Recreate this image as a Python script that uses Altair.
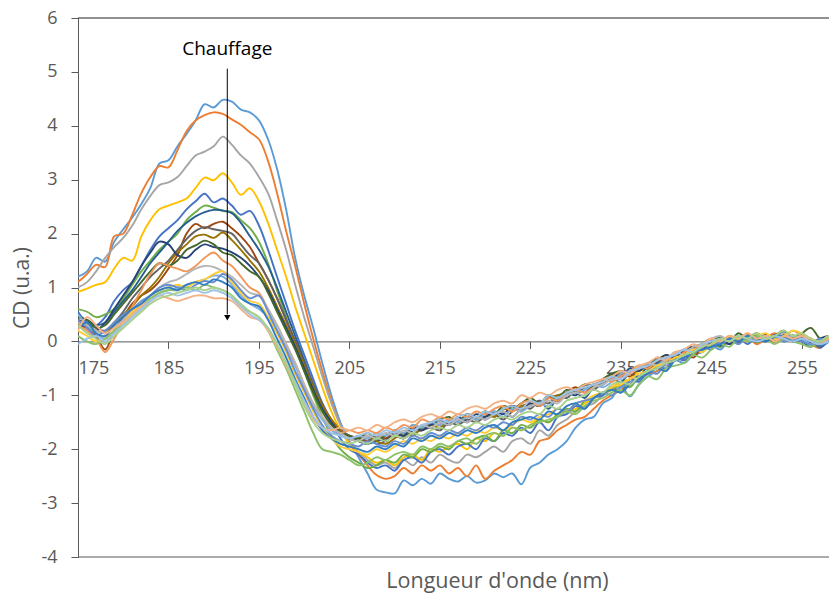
import altair as alt
import pandas as pd

wavelengths = list(range(175, 260))

series_names = [f"S{i:02d}" for i in range(1, 23)]
series_colors = ["#5B9BD5", "#ED7D31", "#A5A5A5", "#FFC000", "#4472C4", "#70AD47",
                 "#255E91", "#9E480E", "#636363", "#997300", "#264478", "#43682B",
                 "#7CAFDD", "#F1975A", "#B7B7B7", "#FFCD33", "#698ED0", "#8CC168",
                 "#327DC2", "#F4B183", "#9DC3E6", "#A9D18E"]

s01 = [1.20, 1.30, 1.55, 1.48, 1.85, 2.08, 2.30, 2.55, 2.85, 3.30,
       3.36, 3.62, 3.85, 4.10, 4.40, 4.34, 4.48, 4.45, 4.30, 4.25,
       4.10, 3.75, 3.20, 2.45, 1.55, 0.85, 0.25, -0.40, -1.00, -1.50,
       -1.85, -2.15, -2.45, -2.75, -2.80, -2.82, -2.58, -2.67, -2.55, -2.64,
       -2.45, -2.55, -2.60, -2.50, -2.62, -2.58, -2.45, -2.52, -2.45, -2.65,
       -2.34, -2.25, -2.10, -2.00, -1.85, -1.60, -1.45, -1.40, -1.15, -1.05,
       -0.82, -1.02, -0.80, -0.65, -0.55, -0.50, -0.35, -0.40, -0.25, -0.20,
       -0.08, -0.15, 0.02, -0.05, 0.10, 0.00, 0.06, 0.14, 0.00, 0.05,
       0.10, 0.02, -0.10, 0.00, 0.12]
s02 = [1.10, 1.25, 1.42, 1.38, 1.95, 2.00, 2.35, 2.75, 3.05, 3.25,
       3.23, 3.55, 3.90, 4.10, 4.20, 4.25, 4.22, 4.12, 4.02, 3.88,
       3.75, 3.35, 2.75, 2.05, 1.40, 0.70, 0.05, -0.55, -1.10, -1.55,
       -1.90, -2.10, -2.30, -2.48, -2.55, -2.50, -2.35, -2.45, -2.30, -2.40,
       -2.30, -2.45, -2.35, -2.50, -2.30, -2.55, -2.40, -2.30, -2.20, -2.05,
       -2.10, -1.85, -1.80, -1.65, -1.55, -1.45, -1.40, -1.25, -1.10, -1.00,
       -0.90, -0.80, -0.70, -0.60, -0.55, -0.40, -0.30, -0.35, -0.20, -0.15,
       -0.05, -0.10, 0.05, 0.00, 0.08, -0.05, 0.05, 0.15, 0.05, 0.00,
       0.08, -0.05, -0.12, 0.05, 0.20]
s03 = [1.00, 1.10, 1.30, 1.55, 1.75, 1.92, 2.15, 2.45, 2.70, 2.90,
       2.95, 3.05, 3.25, 3.45, 3.52, 3.62, 3.80, 3.65, 3.45, 3.30,
       3.05, 2.75, 2.25, 1.70, 1.05, 0.45, -0.10, -0.65, -1.15, -1.55,
       -1.85, -2.05, -2.20, -2.30, -2.25, -2.35, -2.20, -2.30, -2.15, -2.25,
       -2.10, -2.20, -2.25, -2.10, -2.15, -2.05, -1.95, -2.05, -1.85, -1.80,
       -1.90, -1.65, -1.75, -1.55, -1.45, -1.30, -1.20, -1.15, -1.00, -0.90,
       -0.85, -0.70, -0.65, -0.55, -0.40, -0.45, -0.30, -0.20, -0.25, -0.10,
       -0.05, 0.05, -0.05, 0.10, 0.00, 0.05, 0.10, 0.00, 0.08, 0.12,
       0.05, 0.00, -0.08, 0.05, 0.10]
s04 = [0.92, 0.98, 1.05, 1.10, 1.35, 1.55, 1.50, 1.95, 2.25, 2.45,
       2.52, 2.58, 2.65, 2.85, 3.04, 2.99, 3.12, 2.95, 2.72, 2.84,
       2.60, 2.20, 1.70, 1.20, 0.65, 0.15, -0.35, -0.85, -1.30, -1.65,
       -1.90, -2.05, -2.15, -2.25, -2.20, -2.30, -2.15, -2.10, -2.20, -2.00,
       -2.05, -1.95, -1.90, -2.00, -1.80, -1.85, -1.70, -1.75, -1.60, -1.65,
       -1.55, -1.45, -1.50, -1.35, -1.30, -1.25, -1.15, -1.05, -0.95, -0.85,
       -0.75, -0.70, -0.55, -0.50, -0.40, -0.35, -0.25, -0.30, -0.15, -0.10,
       -0.05, 0.05, 0.00, 0.10, 0.05, 0.15, 0.05, 0.10, 0.20, 0.05,
       0.12, 0.00, -0.05, 0.10, 0.05]
s05 = [0.55, 0.35, 0.30, 0.45, 0.75, 0.95, 1.10, 1.40, 1.70, 1.95,
       2.10, 2.25, 2.45, 2.60, 2.74, 2.58, 2.65, 2.52, 2.35, 2.42,
       2.15, 1.70, 1.20, 0.70, 0.20, -0.25, -0.70, -1.15, -1.50, -1.80,
       -2.00, -2.10, -2.25, -2.35, -2.30, -2.40, -2.20, -2.15, -2.25, -2.05,
       -2.00, -2.10, -1.95, -1.90, -2.00, -1.80, -1.85, -1.70, -1.75, -1.60,
       -1.70, -1.50, -1.65, -1.40, -1.35, -1.20, -1.25, -1.05, -1.00, -0.85,
       -0.95, -0.70, -0.75, -0.55, -0.45, -0.50, -0.30, -0.35, -0.20, -0.10,
       -0.15, 0.00, -0.05, 0.08, -0.05, 0.10, 0.00, 0.12, 0.05, 0.10,
       0.00, 0.05, -0.12, 0.02, 0.08]
s06 = [0.60, 0.55, 0.45, 0.50, 0.60, 0.80, 1.05, 1.30, 1.50, 1.70,
       1.85, 2.00, 2.25, 2.40, 2.52, 2.48, 2.42, 2.40, 2.25, 2.10,
       1.85, 1.45, 0.95, 0.45, -0.05, -0.55, -1.00, -1.40, -1.75, -2.00,
       -2.15, -2.25, -2.35, -2.30, -2.20, -2.25, -2.10, -2.15, -2.00, -2.05,
       -1.95, -2.00, -1.85, -1.90, -1.80, -1.75, -1.85, -1.65, -1.70, -1.55,
       -1.60, -1.45, -1.50, -1.35, -1.25, -1.30, -1.10, -1.05, -0.95, -0.90,
       -0.80, -0.85, -0.65, -0.60, -0.45, -0.40, -0.35, -0.20, -0.25, -0.15,
       -0.05, -0.10, 0.05, 0.00, 0.10, -0.02, 0.08, 0.05, 0.15, 0.00,
       0.10, -0.05, 0.00, 0.10, 0.05]
s07 = [0.45, 0.40, 0.30, 0.35, 0.55, 0.75, 0.95, 1.20, 1.45, 1.65,
       1.85, 2.05, 2.20, 2.32, 2.40, 2.44, 2.43, 2.38, 2.20, 1.95,
       1.70, 1.40, 1.00, 0.55, 0.10, -0.35, -0.80, -1.20, -1.50, -1.70,
       -1.80, -1.85, -1.90, -1.85, -1.80, -1.75, -1.80, -1.65, -1.60, -1.55,
       -1.50, -1.55, -1.45, -1.50, -1.40, -1.45, -1.35, -1.30, -1.40, -1.25,
       -1.20, -1.10, -1.25, -1.05, -1.00, -0.95, -1.05, -0.85, -0.80, -0.70,
       -0.75, -0.60, -0.65, -0.45, -0.40, -0.30, -0.35, -0.20, -0.15, -0.05,
       0.00, -0.08, 0.08, 0.00, 0.12, 0.05, 0.00, 0.10, 0.15, 0.05,
       0.00, -0.10, 0.05, 0.00, 0.10]
s08 = [0.30, 0.25, 0.10, -0.15, 0.20, 0.45, 0.70, 0.85, 0.95, 1.12,
       1.35, 1.60, 2.00, 2.18, 2.10, 2.18, 2.22, 2.10, 1.95, 1.75,
       1.45, 1.15, 0.80, 0.40, 0.00, -0.40, -0.85, -1.20, -1.45, -1.65,
       -1.75, -1.80, -1.85, -1.75, -1.80, -1.70, -1.75, -1.60, -1.65, -1.50,
       -1.55, -1.45, -1.50, -1.35, -1.45, -1.30, -1.40, -1.25, -1.20, -1.30,
       -1.10, -1.20, -1.00, -1.10, -0.95, -0.85, -0.95, -0.80, -0.75, -0.70,
       -0.60, -0.65, -0.50, -0.45, -0.35, -0.40, -0.25, -0.20, -0.30, -0.10,
       -0.05, 0.05, -0.05, 0.10, 0.00, 0.10, 0.05, 0.00, 0.12, 0.05,
       0.10, 0.00, -0.05, 0.05, 0.00]
s09 = [0.40, 0.35, 0.25, 0.20, 0.35, 0.55, 0.80, 1.00, 1.20, 1.35,
       1.50, 1.70, 1.90, 2.05, 2.12, 2.08, 2.05, 2.00, 1.80, 1.60,
       1.45, 1.15, 0.80, 0.40, 0.00, -0.40, -0.80, -1.15, -1.45, -1.65,
       -1.75, -1.85, -1.80, -1.90, -1.85, -1.75, -1.80, -1.70, -1.65, -1.60,
       -1.65, -1.50, -1.55, -1.45, -1.50, -1.40, -1.35, -1.45, -1.30, -1.20,
       -1.25, -1.10, -1.15, -1.00, -1.05, -0.90, -0.85, -0.90, -0.75, -0.65,
       -0.70, -0.55, -0.50, -0.40, -0.45, -0.30, -0.25, -0.30, -0.15, -0.10,
       -0.05, 0.00, 0.08, -0.02, 0.10, 0.05, 0.12, 0.00, 0.08, 0.10,
       0.05, 0.00, -0.10, 0.05, 0.12]
s10 = [0.35, 0.30, 0.20, 0.15, 0.30, 0.50, 0.65, 0.85, 1.00, 1.20,
       1.45, 1.65, 1.80, 1.95, 1.98, 1.92, 2.02, 1.88, 1.70, 1.50,
       1.30, 1.00, 0.65, 0.30, -0.05, -0.45, -0.85, -1.20, -1.45, -1.65,
       -1.80, -1.85, -1.75, -1.85, -1.90, -1.80, -1.70, -1.75, -1.60, -1.55,
       -1.60, -1.45, -1.50, -1.40, -1.45, -1.35, -1.40, -1.25, -1.30, -1.20,
       -1.15, -1.20, -1.05, -1.00, -0.95, -0.90, -0.80, -0.85, -0.70, -0.65,
       -0.60, -0.55, -0.45, -0.50, -0.35, -0.25, -0.30, -0.15, -0.20, -0.05,
       0.05, -0.05, 0.10, 0.00, 0.05, 0.15, 0.05, 0.10, 0.00, 0.08,
       0.12, 0.00, -0.05, 0.00, 0.10]
s11 = [0.25, 0.30, 0.20, 0.35, 0.60, 0.85, 1.10, 1.40, 1.65, 1.85,
       1.80, 1.60, 1.55, 1.70, 1.80, 1.75, 1.72, 1.65, 1.55, 1.40,
       1.20, 0.95, 0.60, 0.25, -0.10, -0.50, -0.90, -1.25, -1.50, -1.70,
       -1.80, -1.85, -1.90, -1.80, -1.85, -1.70, -1.75, -1.60, -1.65, -1.55,
       -1.45, -1.55, -1.40, -1.50, -1.35, -1.40, -1.30, -1.35, -1.20, -1.25,
       -1.15, -1.20, -1.05, -1.10, -0.95, -1.00, -0.85, -0.80, -0.75, -0.60,
       -0.65, -0.50, -0.55, -0.40, -0.35, -0.25, -0.30, -0.15, -0.10, -0.15,
       0.00, 0.05, -0.05, 0.10, 0.05, 0.00, 0.12, 0.05, 0.10, 0.00,
       0.08, -0.02, 0.05, 0.10, 0.00]
s12 = [0.45, 0.40, 0.25, 0.30, 0.50, 0.70, 0.90, 1.10, 1.30, 1.45,
       1.40, 1.50, 1.70, 1.78, 1.87, 1.80, 1.65, 1.60, 1.45, 1.30,
       1.20, 0.90, 0.55, 0.20, -0.15, -0.55, -0.95, -1.30, -1.55, -1.70,
       -1.75, -1.80, -1.70, -1.80, -1.75, -1.65, -1.70, -1.55, -1.60, -1.50,
       -1.45, -1.40, -1.50, -1.35, -1.40, -1.30, -1.35, -1.20, -1.25, -1.15,
       -1.05, -1.15, -1.00, -1.05, -0.90, -0.95, -0.80, -0.85, -0.70, -0.60,
       -0.55, -0.60, -0.45, -0.50, -0.30, -0.35, -0.20, -0.25, -0.10, -0.05,
       0.00, 0.08, 0.00, 0.15, 0.05, 0.10, 0.00, 0.10, 0.20, 0.05,
       0.15, 0.25, 0.05, 0.00, 0.10]
s13 = [0.50, 0.30, 0.15, 0.05, 0.15, 0.30, 0.45, 0.60, 0.75, 0.90,
       0.95, 1.00, 1.05, 1.10, 1.15, 1.22, 1.20, 1.05, 0.85, 0.70,
       0.60, 0.45, 0.20, -0.10, -0.45, -0.85, -1.20, -1.45, -1.65, -1.75,
       -1.80, -1.75, -1.80, -1.70, -1.75, -1.65, -1.70, -1.55, -1.60, -1.50,
       -1.55, -1.45, -1.50, -1.40, -1.45, -1.35, -1.30, -1.40, -1.25, -1.30,
       -1.20, -1.15, -1.20, -1.05, -1.00, -0.95, -0.90, -0.80, -0.85, -0.75,
       -0.60, -0.55, -0.50, -0.40, -0.45, -0.30, -0.25, -0.15, -0.20, -0.10,
       0.00, -0.05, 0.05, 0.10, 0.00, 0.05, 0.10, 0.05, 0.00, 0.10,
       0.05, -0.05, 0.00, 0.05, 0.00]
s14 = [0.30, 0.20, 0.05, -0.20, 0.05, 0.35, 0.65, 0.95, 1.25, 1.45,
       1.40, 1.35, 1.30, 1.40, 1.55, 1.65, 1.50, 1.40, 1.20, 1.00,
       0.90, 0.60, 0.30, -0.05, -0.40, -0.80, -1.15, -1.40, -1.60, -1.70,
       -1.65, -1.70, -1.65, -1.70, -1.60, -1.65, -1.55, -1.60, -1.45, -1.50,
       -1.40, -1.45, -1.35, -1.40, -1.30, -1.35, -1.25, -1.20, -1.30, -1.15,
       -1.10, -1.20, -1.05, -1.10, -0.95, -0.90, -0.95, -0.85, -0.70, -0.75,
       -0.65, -0.55, -0.45, -0.50, -0.35, -0.30, -0.35, -0.20, -0.15, -0.05,
       0.05, 0.00, 0.10, 0.05, 0.15, 0.05, 0.10, 0.00, 0.05, 0.20,
       0.10, 0.05, -0.05, 0.05, 0.15]
s15 = [0.35, 0.30, 0.20, 0.15, 0.25, 0.40, 0.55, 0.70, 0.85, 1.00,
       1.10, 1.15, 1.25, 1.35, 1.40, 1.38, 1.30, 1.20, 1.05, 0.90,
       0.85, 0.60, 0.30, -0.05, -0.40, -0.80, -1.15, -1.40, -1.60, -1.70,
       -1.80, -1.85, -1.75, -1.80, -1.70, -1.75, -1.65, -1.70, -1.55, -1.60,
       -1.50, -1.55, -1.45, -1.50, -1.40, -1.45, -1.35, -1.30, -1.40, -1.25,
       -1.20, -1.15, -1.10, -1.15, -1.00, -0.95, -1.00, -0.85, -0.80, -0.70,
       -0.70, -0.60, -0.50, -0.40, -0.45, -0.35, -0.20, -0.25, -0.10, -0.05,
       0.05, 0.10, 0.00, 0.05, 0.10, 0.00, 0.10, 0.05, 0.15, 0.05,
       0.10, 0.05, 0.00, 0.05, 0.10]
s16 = [0.20, 0.10, 0.00, 0.05, 0.20, 0.35, 0.55, 0.70, 0.85, 0.95,
       1.00, 1.05, 1.00, 1.10, 1.15, 1.25, 1.30, 1.10, 0.90, 0.75,
       0.70, 0.45, 0.15, -0.20, -0.60, -0.95, -1.30, -1.60, -1.80, -1.95,
       -2.00, -2.05, -2.10, -2.00, -2.05, -1.95, -1.85, -1.90, -1.80, -1.85,
       -1.75, -1.80, -1.70, -1.75, -1.65, -1.70, -1.60, -1.65, -1.55, -1.45,
       -1.50, -1.40, -1.35, -1.25, -1.30, -1.15, -1.10, -1.00, -0.95, -0.85,
       -0.80, -0.70, -0.60, -0.55, -0.45, -0.40, -0.30, -0.25, -0.15, -0.20,
       -0.05, 0.00, 0.10, 0.05, 0.00, 0.10, 0.15, 0.05, 0.10, 0.20,
       0.15, 0.05, 0.00, 0.10, 0.05]
s17 = [0.40, 0.25, 0.10, 0.20, 0.35, 0.50, 0.60, 0.75, 0.85, 1.00,
       1.05, 1.00, 0.95, 1.05, 1.12, 1.10, 1.25, 1.15, 0.95, 0.80,
       0.85, 0.55, 0.20, -0.15, -0.55, -0.90, -1.25, -1.55, -1.75, -1.85,
       -1.90, -1.95, -1.85, -1.90, -1.95, -1.85, -1.90, -1.75, -1.80, -1.70,
       -1.75, -1.65, -1.70, -1.60, -1.65, -1.55, -1.60, -1.50, -1.55, -1.40,
       -1.45, -1.35, -1.40, -1.25, -1.30, -1.15, -1.10, -1.05, -0.95, -1.00,
       -0.85, -0.75, -0.70, -0.55, -0.60, -0.40, -0.35, -0.30, -0.20, -0.15,
       -0.10, 0.00, 0.05, -0.05, 0.08, 0.00, 0.05, 0.10, 0.00, 0.05,
       0.00, -0.05, 0.05, 0.00, 0.08]
s18 = [0.10, 0.00, -0.05, 0.05, 0.20, 0.35, 0.50, 0.65, 0.80, 0.90,
       0.95, 0.95, 1.00, 0.95, 1.05, 1.00, 0.95, 0.85, 0.65, 0.55,
       0.45, 0.20, -0.15, -0.50, -0.90, -1.30, -1.70, -2.00, -2.05, -2.10,
       -2.20, -2.30, -2.25, -2.15, -2.20, -2.10, -2.05, -2.10, -1.95, -2.00,
       -1.90, -1.95, -1.85, -1.80, -1.90, -1.75, -1.70, -1.75, -1.60, -1.65,
       -1.55, -1.50, -1.45, -1.40, -1.30, -1.35, -1.20, -1.10, -1.05, -0.95,
       -0.90, -1.00, -0.80, -0.65, -0.70, -0.50, -0.45, -0.40, -0.25, -0.30,
       -0.15, -0.05, -0.10, 0.05, 0.00, 0.10, 0.05, -0.05, 0.05, 0.00,
       -0.05, -0.10, 0.00, 0.05, 0.00]
s19 = [0.25, 0.35, 0.15, 0.10, 0.30, 0.45, 0.60, 0.70, 0.85, 0.95,
       1.00, 0.95, 1.05, 1.10, 1.05, 1.15, 1.10, 1.00, 0.80, 0.70,
       0.65, 0.40, 0.05, -0.30, -0.70, -1.05, -1.40, -1.65, -1.80, -1.90,
       -1.95, -2.00, -2.05, -1.95, -2.00, -1.90, -1.95, -1.80, -1.85, -1.75,
       -1.80, -1.70, -1.75, -1.65, -1.70, -1.60, -1.55, -1.65, -1.50, -1.45,
       -1.40, -1.45, -1.30, -1.35, -1.20, -1.15, -1.25, -1.05, -0.95, -0.90,
       -0.95, -0.80, -0.70, -0.60, -0.50, -0.55, -0.35, -0.30, -0.20, -0.15,
       -0.10, -0.05, 0.05, 0.00, 0.10, 0.05, 0.00, 0.08, 0.10, 0.00,
       0.05, 0.00, -0.08, 0.00, 0.05]
s20 = [0.20, 0.45, 0.30, 0.15, 0.25, 0.35, 0.50, 0.65, 0.75, 0.85,
       0.80, 0.75, 0.80, 0.85, 0.85, 0.80, 0.80, 0.75, 0.60, 0.45,
       0.40, 0.20, -0.10, -0.45, -0.80, -1.15, -1.45, -1.60, -1.65, -1.60,
       -1.65, -1.60, -1.65, -1.55, -1.60, -1.50, -1.45, -1.50, -1.40, -1.35,
       -1.40, -1.30, -1.35, -1.25, -1.20, -1.25, -1.15, -1.10, -1.15, -1.00,
       -1.05, -0.95, -1.00, -0.90, -0.85, -0.90, -0.80, -0.75, -0.70, -0.65,
       -0.55, -0.60, -0.45, -0.40, -0.30, -0.35, -0.20, -0.15, -0.05, -0.10,
       0.05, 0.00, 0.10, 0.05, 0.15, 0.05, 0.10, 0.00, 0.10, 0.05,
       0.10, 0.00, -0.05, 0.05, 0.10]
s21 = [-0.05, 0.05, 0.10, 0.00, 0.15, 0.30, 0.45, 0.60, 0.75, 0.85,
       0.90, 0.85, 0.90, 0.95, 0.90, 0.95, 0.90, 0.80, 0.65, 0.50,
       0.40, 0.25, -0.05, -0.40, -0.75, -1.10, -1.40, -1.60, -1.70, -1.75,
       -1.80, -1.75, -1.70, -1.75, -1.65, -1.70, -1.60, -1.65, -1.55, -1.50,
       -1.45, -1.50, -1.40, -1.35, -1.40, -1.30, -1.35, -1.25, -1.20, -1.25,
       -1.10, -1.15, -1.00, -1.05, -0.95, -0.90, -0.85, -0.80, -0.75, -0.65,
       -0.70, -0.55, -0.50, -0.45, -0.35, -0.30, -0.25, -0.15, -0.20, -0.05,
       0.00, 0.05, 0.00, 0.10, 0.05, 0.00, 0.05, 0.10, 0.05, 0.00,
       0.05, 0.00, -0.05, 0.00, 0.05]
s22 = [0.30, 0.15, 0.05, -0.05, 0.10, 0.25, 0.40, 0.55, 0.70, 0.80,
       0.85, 0.90, 0.95, 1.00, 0.95, 1.00, 0.95, 0.85, 0.70, 0.55,
       0.45, 0.25, -0.05, -0.40, -0.80, -1.20, -1.50, -1.70, -1.80, -1.85,
       -1.90, -1.85, -1.90, -1.80, -1.85, -1.75, -1.80, -1.70, -1.75, -1.65,
       -1.60, -1.65, -1.55, -1.60, -1.50, -1.55, -1.45, -1.40, -1.45, -1.35,
       -1.30, -1.35, -1.20, -1.25, -1.10, -1.05, -1.00, -0.90, -0.95, -0.80,
       -0.75, -0.80, -0.65, -0.55, -0.50, -0.40, -0.35, -0.25, -0.20, -0.10,
       -0.05, 0.05, 0.00, 0.10, 0.05, 0.15, 0.05, 0.10, 0.20, 0.10,
       0.15, 0.05, 0.00, 0.10, 0.05]

all_series = [s01, s02, s03, s04, s05, s06, s07, s08, s09, s10, s11,
              s12, s13, s14, s15, s16, s17, s18, s19, s20, s21, s22]

x_ticks = [175, 185, 195, 205, 215, 225, 235, 245, 255]
y_ticks = [-4, -3, -2, -1, 0, 1, 2, 3, 4, 5, 6]
frame_lines = [6, -4]

annot_text = ["Chauffage"]
annot_x = [191.5]
annot_text_y = [5.31]
arrow_top = [5.06]
arrow_bottom = [0.5]
arrow_head_y = [0.44]

rows = []
for name, vals in zip(series_names, all_series):
    for w, v in zip(wavelengths, vals):
        rows.append({"wl": w, "cd": v, "series": name})
df = pd.DataFrame(rows)

FONT = "Open Sans"
GREY = "#595959"

x_scale = alt.Scale(domain=[175, 258], nice=False, zero=False)
y_scale = alt.Scale(domain=[-4, 6], nice=False, zero=False)

x_axis = alt.Axis(values=x_ticks, title="Longueur d'onde (nm)", offset=-215.6,
                  grid=False, tickSize=7, tickColor=GREY, domainColor=GREY,
                  labelColor=GREY, labelFont=FONT, labelFontSize=18, labelPadding=11,
                  labelOverlap=False, labelExpr="'' + datum.value",
                  titleFont=FONT, titleFontSize=21.5, titleFontWeight="normal",
                  titleColor=GREY, titleX=419, titleY=246, titleBaseline="alphabetic")
y_axis = alt.Axis(values=y_ticks, title="CD (u.a.)", grid=False, tickSize=7,
                  tickColor=GREY, domainColor=GREY, labelColor=GREY,
                  labelFont=FONT, labelFontSize=18, labelPadding=14,
                  labelOverlap=False, labelExpr="'' + datum.value",
                  titleFont=FONT, titleFontSize=21, titleFontWeight="normal",
                  titleColor=GREY, titleX=-56, titleBaseline="middle")

lines = alt.Chart(df).mark_line(interpolate="catmull-rom", strokeWidth=1.9, clip=True).encode(
    x=alt.X("wl:Q", scale=x_scale, axis=x_axis),
    y=alt.Y("cd:Q", scale=y_scale, axis=y_axis),
    color=alt.Color("series:N", scale=alt.Scale(domain=series_names, range=series_colors), legend=None),
)

frame_df = pd.DataFrame({"y": frame_lines, "c": ["#222222", GREY]})
frame = alt.Chart(frame_df).mark_rule(strokeWidth=1.2).encode(
    y=alt.Y("y:Q", scale=y_scale),
    color=alt.Color("c:N", scale=None),
)

ann_df = pd.DataFrame({"x": annot_x, "ty": annot_text_y, "top": arrow_top,
                       "bot": arrow_bottom, "hy": arrow_head_y, "t": annot_text})
arrow_line = alt.Chart(ann_df).mark_rule(color="black", strokeWidth=1).encode(
    x=alt.X("x:Q", scale=x_scale), y=alt.Y("top:Q", scale=y_scale), y2="bot:Q")
arrow_head = alt.Chart(ann_df).mark_point(shape="triangle-down", filled=True, size=40,
                                          color="black", opacity=1).encode(
    x=alt.X("x:Q", scale=x_scale), y=alt.Y("hy:Q", scale=y_scale))
label = alt.Chart(ann_df).mark_text(font=FONT, fontSize=19, color="black",
                                     align="center", baseline="alphabetic").encode(
    x=alt.X("x:Q", scale=x_scale), y=alt.Y("ty:Q", scale=y_scale), text="t:N")

chart = alt.layer(frame, lines, arrow_line, arrow_head, label).properties(
    width=751, height=539,
    autosize=alt.AutoSizeParams(type="none"),
    padding={"left": 70, "top": 10, "right": 0, "bottom": 36},
    background="white",
).configure_view(stroke=None)

chart.save("out.html", embed_options={"renderer": "svg", "actions": False})
